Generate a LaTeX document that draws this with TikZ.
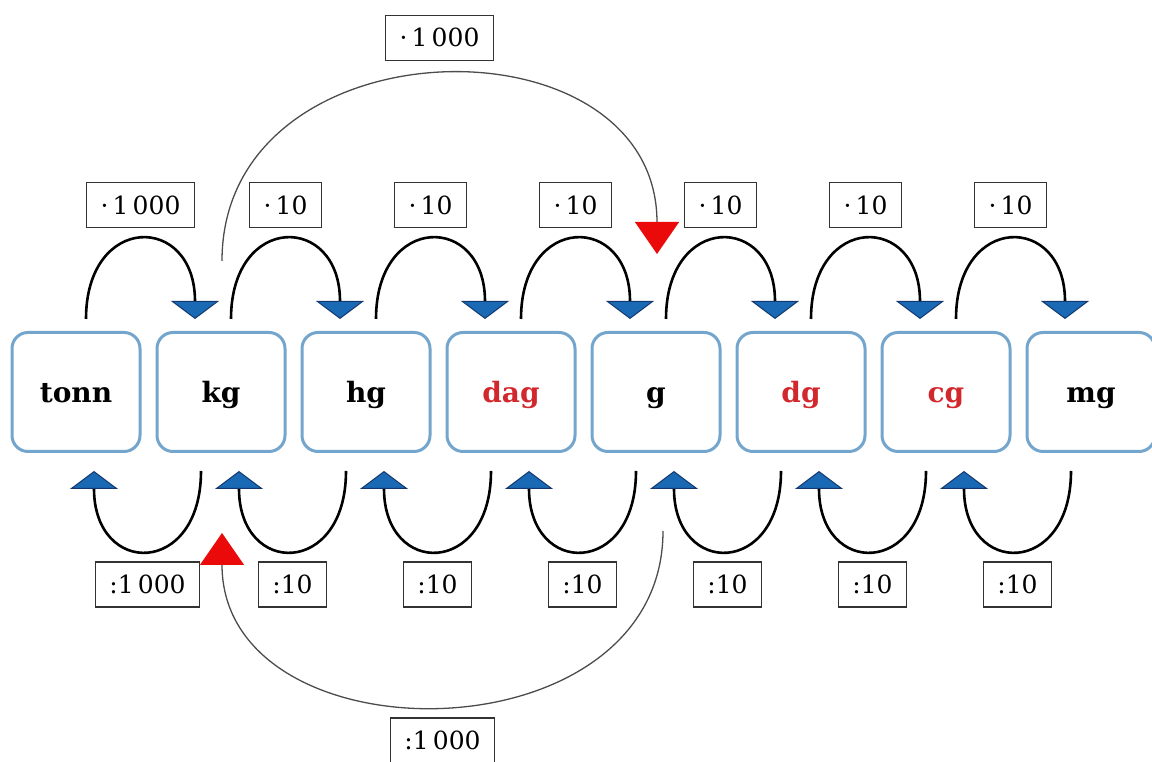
\documentclass[tikz,border=0pt]{standalone}
\usepackage{fontspec}
\setmainfont{DejaVu Serif}
\usetikzlibrary{positioning,arrows.meta}
\newlength{\unitboxwidth}
\newlength{\unitboxheight}
\newlength{\unitboxgap}
\newlength{\arcdistance}
\newlength{\labelgap}
\setlength{\unitboxwidth}{128pt}
\setlength{\unitboxheight}{119pt}
\setlength{\unitboxgap}{14pt}
\setlength{\arcdistance}{106pt}
\setlength{\labelgap}{11pt}
\definecolor{unitedgecolor}{RGB}{115,165,205}
\definecolor{tipcolor}{RGB}{25,105,180}
\definecolor{tipedgecolor}{RGB}{20,55,110}
\definecolor{bigtipcolor}{RGB}{235,10,10}
\definecolor{redunitcolor}{RGB}{210,40,45}
\tikzstyle{unitbox} = [draw=unitedgecolor, line width=3pt, rounded corners=16pt, fill=white, minimum width=\unitboxwidth, minimum height=\unitboxheight, text height=28pt, text depth=6pt, font=\fontsize{28}{32}\selectfont\bfseries]
\tikzstyle{factorbox} = [draw=black!80, text=black, line width=1.3pt, fill=white, minimum height=45pt, inner xsep=14pt, font=\fontsize{25}{29}\selectfont]
\tikzstyle{smallarc} = [line width=2.6pt, -{Triangle[width=48pt,length=18pt,color=tipedgecolor,fill=tipcolor,line width=1pt]}]
\tikzstyle{bigarc} = [black!70, line width=1.3pt, -{Triangle[width=44pt,length=32pt,color=bigtipcolor,fill=bigtipcolor]}]
\newcommand{\multarc}[4]{
	\draw[smallarc] ([shift={(10pt,12pt)}]#1.north) to[out=90, in=90, distance=\arcdistance] node[factorbox, above=\labelgap] (#3) {#4} ([shift={(-26pt,12pt)}]#2.north);
}
\newcommand{\divarc}[4]{
	\draw[smallarc] ([shift={(-20pt,-18pt)}]#1.south) to[out=-90, in=-90, distance=\arcdistance] node[factorbox, below=\labelgap] (#3) {#4} ([shift={(18pt,-18pt)}]#2.south);
}

\begin{document}
\begin{tikzpicture}[
		x=1pt, y=1pt
		]
		\useasboundingbox (0,0) rectangle (1152,762);
		
		\node[unitbox] (tonn) at (76,370) {tonn};
		\node[unitbox, right=\unitboxgap of tonn] (kg) {kg};
		\node[unitbox, right=\unitboxgap of kg] (hg) {hg};
		\node[unitbox, right=\unitboxgap of hg, text=redunitcolor] (dag) {dag};
		\node[unitbox, right=\unitboxgap of dag] (g) {g};
		\node[unitbox, right=\unitboxgap of g, text=redunitcolor] (dg) {dg};
		\node[unitbox, right=\unitboxgap of dg, text=redunitcolor] (cg) {cg};
		\node[unitbox, right=\unitboxgap of cg] (mg) {mg};
		
		% the long jumps between kg and g
		\draw[bigarc] ([shift={(1pt,70pt)}]kg.north) to[out=90, in=90, distance=242pt] node[factorbox, above=15pt] (kgtog) {·\,1\,000} ([shift={(1pt,77pt)}]g.north);
		\draw[bigarc] ([shift={(7pt,-78pt)}]g.south) to[out=-90, in=-90, distance=230pt] node[factorbox, below=13pt] (gtokg) {:1\,000} ([shift={(1pt,-80pt)}]kg.south);
		
		\multarc{tonn}{kg}{tonnkg}{·\,1\,000}
		\multarc{kg}{hg}{kghg}{·\,10}
		\multarc{hg}{dag}{hgdag}{·\,10}
		\multarc{dag}{g}{dagg}{·\,10}
		\multarc{g}{dg}{gdg}{·\,10}
		\multarc{dg}{cg}{dgcg}{·\,10}
		\multarc{cg}{mg}{cgmg}{·\,10}
		
		\divarc{kg}{tonn}{kgtonn}{:1\,000}
		\divarc{hg}{kg}{hgkg}{:10}
		\divarc{dag}{hg}{daghg}{:10}
		\divarc{g}{dag}{gdag}{:10}
		\divarc{dg}{g}{dgg}{:10}
		\divarc{cg}{dg}{cgdg}{:10}
		\divarc{mg}{cg}{mgcg}{:10}
		
	\end{tikzpicture}
\end{document}
